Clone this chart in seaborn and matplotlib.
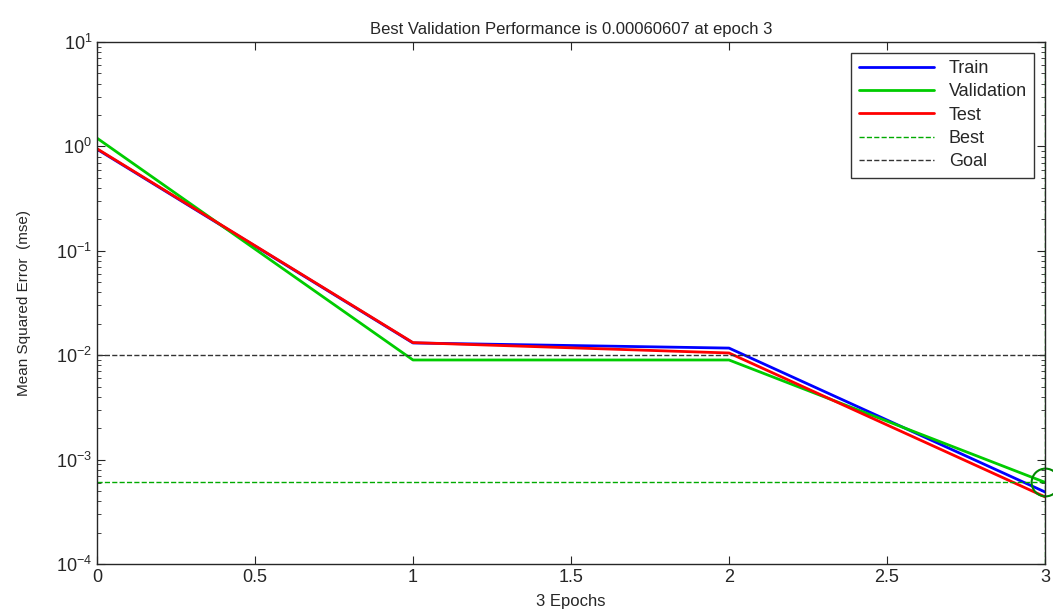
import pandas as pd
import numpy as np
import matplotlib.pyplot as plt
import seaborn as sns

epochs = [0, 1, 2, 3]
train_mse = [0.94, 0.0131, 0.0117, 0.00049]
val_mse = [1.2, 0.0090, 0.0090, 0.00060607]
test_mse = [0.95, 0.0132, 0.0105, 0.00044]
best_epoch = 3
best_perf = 0.00060607
goal = 0.01

df = pd.DataFrame({
    "epoch": epochs * 3,
    "mse": train_mse + val_mse + test_mse,
    "set": ["Train"] * 4 + ["Validation"] * 4 + ["Test"] * 4,
})

sns.set_style("ticks")
plt.rcParams['font.family'] = ['Liberation Sans', 'DejaVu Sans']

fig = plt.figure(figsize=(10.53, 6.12), dpi=100)
ax = fig.add_axes([0.0921, 0.0784, 0.9003, 0.853])

pal = {"Train": "#0000ff", "Validation": "#00cc00", "Test": "#ff0000"}
sns.lineplot(data=df, x="epoch", y="mse", hue="set", palette=pal, linewidth=2, ax=ax)

ax.axhline(best_perf, color="#00aa00", linestyle="--", linewidth=1, label="Best")
ax.axvline(best_epoch, color="#00aa00", linestyle="--", linewidth=1)
ax.axhline(goal, color="#333333", linestyle="--", linewidth=1, label="Goal")
ax.plot([best_epoch], [best_perf], marker="o", markersize=20, markerfacecolor="none",
        markeredgecolor="#008800", markeredgewidth=1.5, clip_on=False)

ax.set_yscale("log")
ax.set_xlim(0, 3)
ax.set_ylim(1e-4, 10)
ax.set_xticks([0, 0.5, 1, 1.5, 2, 2.5, 3])
ax.set_xticklabels(["0", "0.5", "1", "1.5", "2", "2.5", "3"])
ax.tick_params(which="both", direction="in", top=True, right=True, labelsize=13)
ax.tick_params(which="major", length=6)
ax.tick_params(which="minor", length=3)
for s in ax.spines.values():
    s.set_linewidth(1)

ax.set_title("Best Validation Performance is 0.00060607 at epoch 3", fontsize=12)
ax.set_xlabel("3 Epochs", fontsize=12, labelpad=6)
ax.set_ylabel("Mean Squared Error  (mse)", fontsize=11, labelpad=18)

handles, labels = ax.get_legend_handles_labels()
ax.legend(handles, labels, loc="upper right", fontsize=13, frameon=True, fancybox=False,
          edgecolor="black", handlelength=4.2, borderaxespad=0.6, labelspacing=0.35)

plt.savefig("out.png", dpi=100)
